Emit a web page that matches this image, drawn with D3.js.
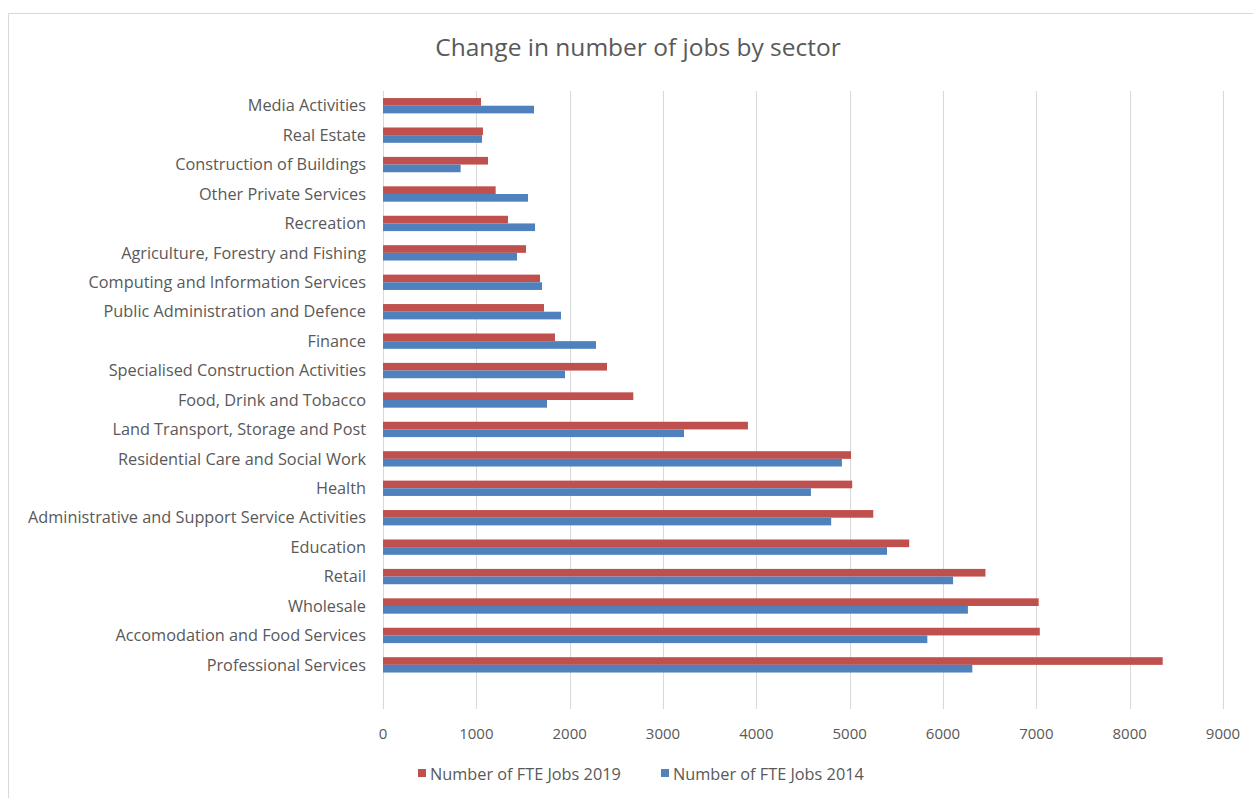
<!DOCTYPE html>
<html lang="en">
<head>
<meta charset="utf-8">
<script src="https://d3js.org/d3.v7.min.js"></script>
<style>
  body { margin: 0; background: #fff; }
  svg { display: block; }
</style>
</head>
<body>
<div id="chart"></div>
<script>
// sectors, top to bottom as shown
var sectors = [
  "Media Activities",
  "Real Estate",
  "Construction of Buildings",
  "Other Private Services",
  "Recreation",
  "Agriculture, Forestry and Fishing",
  "Computing and Information Services",
  "Public Administration and Defence",
  "Finance",
  "Specialised Construction Activities",
  "Food, Drink and Tobacco",
  "Land Transport, Storage and Post",
  "Residential Care and Social Work",
  "Health",
  "Administrative and Support Service Activities",
  "Education",
  "Retail",
  "Wholesale",
  "Accomodation and Food Services",
  "Professional Services"
];
var jobs2019 = [1050, 1071, 1125, 1207, 1339, 1532, 1682, 1725, 1843, 2400,
                2682, 3910, 5015, 5027, 5253, 5638, 6455, 7025, 7037, 8354];
var jobs2014 = [1618, 1061, 832, 1554, 1629, 1436, 1704, 1907, 2282, 1950,
                1757, 3225, 4917, 4585, 4802, 5400, 6108, 6267, 5832, 6314];
var xTicks = [0, 1000, 2000, 3000, 4000, 5000, 6000, 7000, 8000, 9000];
var seriesNames = ["Number of FTE Jobs 2019", "Number of FTE Jobs 2014"];
var seriesColors = ["#c0504d", "#4f81bd"];

var W = 1253, H = 798;
var font = "'Open Sans', sans-serif";
var svg = d3.select("#chart").append("svg")
    .attr("width", W).attr("height", H);

// chart frame
svg.append("rect")
    .attr("x", 8.5).attr("y", 13.5)
    .attr("width", W).attr("height", H)
    .attr("fill", "#fff").attr("stroke", "#d9d9d9");

svg.append("text")
    .attr("x", 638).attr("y", 56)
    .attr("text-anchor", "middle")
    .attr("font-family", font)
    .attr("font-size", 24.5)
    .attr("fill", "#595959")
    .text("Change in number of jobs by sector");

var x = d3.scaleLinear().domain([0, 9000]).range([383, 1223]);

// one empty slot at the bottom, like the source sheet
var y = d3.scaleBand()
    .domain(sectors.concat([""]))
    .range([91, 709]);

var sub = d3.scaleBand()
    .domain([0, 1])
    .range([0, y.step()])
    .paddingOuter(0.92);

// gridlines
svg.append("g").selectAll("line")
    .data(xTicks)
    .enter().append("line")
    .attr("x1", function(d) { return Math.round(x(d)) + 0.5; })
    .attr("x2", function(d) { return Math.round(x(d)) + 0.5; })
    .attr("y1", 91).attr("y2", 709)
    .attr("stroke", "#d9d9d9");

var series = [jobs2019, jobs2014];
series.forEach(function(vals, s) {
  svg.append("g").selectAll("rect")
    .data(vals)
    .enter().append("rect")
    .attr("x", x(0))
    .attr("y", function(d, i) { return y(sectors[i]) + sub(s); })
    .attr("width", function(d) { return x(d) - x(0); })
    .attr("height", sub.bandwidth())
    .attr("fill", seriesColors[s]);
});

// category labels
svg.append("g").selectAll("text")
    .data(sectors)
    .enter().append("text")
    .attr("x", 366)
    .attr("y", function(d) { return y(d) + y.step() / 2; })
    .attr("dy", "0.35em")
    .attr("text-anchor", "end")
    .attr("font-family", font)
    .attr("font-size", 16.3)
    .attr("fill", "#595959")
    .text(function(d) { return d; });

// x tick labels
svg.append("g").selectAll("text")
    .data(xTicks)
    .enter().append("text")
    .attr("x", function(d) { return x(d); })
    .attr("y", 739)
    .attr("text-anchor", "middle")
    .attr("font-family", font)
    .attr("font-size", 15)
    .attr("fill", "#595959")
    .text(function(d) { return d; });

// legend
var legX = [418, 661];
seriesNames.forEach(function(name, s) {
  svg.append("rect")
    .attr("x", legX[s]).attr("y", 769)
    .attr("width", 8).attr("height", 8)
    .attr("fill", seriesColors[s]);
  svg.append("text")
    .attr("x", legX[s] + 12).attr("y", 780)
    .attr("font-family", font)
    .attr("font-size", 16.3)
    .attr("fill", "#595959")
    .text(name);
});
</script>
</body>
</html>
